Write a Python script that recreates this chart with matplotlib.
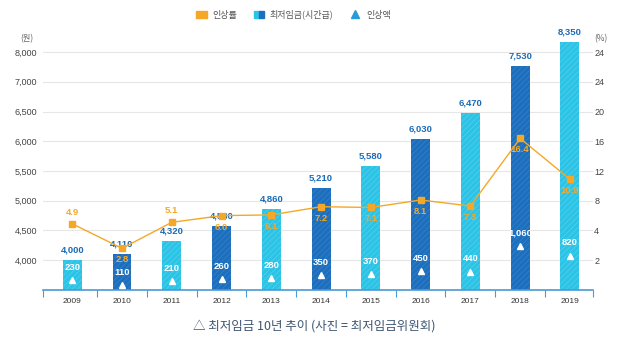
import numpy as np
import matplotlib
matplotlib.use("Agg")
import matplotlib.pyplot as plt
from matplotlib.patches import Patch
from matplotlib.lines import Line2D
from matplotlib.legend_handler import HandlerTuple

years = ["2009", "2010", "2011", "2012", "2013", "2014", "2015", "2016", "2017", "2018", "2019"]
wage = [4000, 4110, 4320, 4580, 4860, 5210, 5580, 6030, 6470, 7530, 8350]
raise_amt = [230, 110, 210, 260, 280, 350, 370, 450, 440, 1060, 820]
raise_pct = [4.9, 2.8, 5.1, 6.0, 6.1, 7.2, 7.1, 8.1, 7.3, 16.4, 10.9]

left_ticks = [4000, 4500, 5000, 5500, 6000, 6500, 7000, 8000]
right_ticks = [2, 4, 8, 12, 16, 20, 24, 28]
right_labels = ["2", "4", "8", "12", "16", "20", "24", "24"]

LIGHT = "#2bc3e6"
DARK = "#1d6fbd"
ORANGE = "#f5a827"
TXT_BLUE = "#1b6cb6"
NARROW = ["Liberation Sans Narrow", "Liberation Sans", "DejaVu Sans"]
KR = ["Noto Sans CJK KR", "DejaVu Sans"]

plt.rcParams["hatch.linewidth"] = 0.4

# the source chart uses evenly spaced but uneven-valued ticks, so map them piecewise
lv = [3500, 4000, 4500, 5000, 5500, 6000, 6500, 7000, 8000, 9000, 20000]
lp = [0, 1, 2, 3, 4, 5, 6, 7, 8, 9, 20]
rv = [0, 2, 4, 8, 12, 16, 20, 24, 28, 32, 100]
rp = [0, 1, 2, 3, 4, 5, 6, 7, 8, 9, 26]


def lf(v):
    return np.interp(v, lv, lp)


def li(p):
    return np.interp(p, lp, lv)


def rf(v):
    return np.interp(v, rv, rp)


def ri(p):
    return np.interp(p, rp, rv)


fig = plt.figure(figsize=(6.22, 3.51), dpi=100)
ax = fig.add_axes([0.069, 0.174, 0.884, 0.726])
x = np.arange(len(years))

ax.set_yscale("function", functions=(lf, li))
ax.set_ylim(3500, 8570)
ax.set_xlim(-0.59, 10.46)

colors = [LIGHT if i % 2 == 0 else DARK for i in range(len(years))]
hatch_cols = ["#5fd4ee" if i % 2 == 0 else "#3a86cc" for i in range(len(years))]
for i in range(len(years)):
    ax.bar(x[i], wage[i] - 3500, bottom=3500, width=0.38, color=colors[i],
           edgecolor=hatch_cols[i], linewidth=0, hatch="//////", zorder=2)
    ax.annotate(f"{wage[i]:,}", (x[i], wage[i]), xytext=(0, 4), textcoords="offset points",
                ha="center", va="bottom", fontsize=6.8, fontweight="bold",
                color=TXT_BLUE, family=NARROW)

ax.set_yticks(left_ticks)
ax.set_yticklabels([f"{t:,}" for t in left_ticks], family=NARROW, fontsize=6.5, color="#444444")
ax.yaxis.grid(True, color="#e6e6e6", linewidth=0.8, zorder=0)
ax.tick_params(axis="y", length=0, pad=4)
ax.set_xticks(x)
ax.set_xticklabels(years, family=NARROW, fontsize=6, color="#333333")
ax.tick_params(axis="x", length=0, pad=6)
ax.set_xticks([-0.59] + [i + 0.5 for i in range(10)] + [10.46], minor=True)
ax.tick_params(axis="x", which="minor", length=5, direction="out", color="#4a9ad6", width=0.8)
for s in ["top", "right", "left"]:
    ax.spines[s].set_visible(False)
ax.spines["bottom"].set_color("#4a9ad6")
ax.spines["bottom"].set_linewidth(1.2)

# percentage line
ax2 = ax.twinx()
ax2.set_yscale("function", functions=(rf, ri))
ax2.set_ylim(0, 30.3)
ax2.plot(x, raise_pct, color=ORANGE, linewidth=1, marker="s", markersize=5, zorder=3)
for i, p in enumerate(raise_pct):
    above = i in (0, 2)
    ax2.annotate(f"{p:.1f}", (x[i], p), xytext=(0, 5 if above else -5),
                 textcoords="offset points", ha="center",
                 va="bottom" if above else "top", fontsize=6.8, fontweight="bold",
                 color=ORANGE, family=NARROW)
ax2.set_yticks(right_ticks)
ax2.set_yticklabels(right_labels, family=NARROW, fontsize=6.5, color="#444444")
ax2.tick_params(axis="y", length=0, pad=1)
for s in ax2.spines.values():
    s.set_visible(False)

# raise amount triangles
ax3 = ax.twinx()
ax3.set_ylim(0, 6100)
ax3.plot(x, raise_amt, linestyle="none", marker="^", color="white", markersize=5)
for i, a in enumerate(raise_amt):
    ax3.annotate(f"{a:,}", (x[i], a), xytext=(0, 6), textcoords="offset points",
                 ha="center", va="bottom", fontsize=6.8, fontweight="bold",
                 color="white", family=NARROW)
ax3.axis("off")

fig.text(0.043, 0.89, "(원)", fontsize=6, color="#666666", family=KR, ha="center", va="center")
fig.text(0.966, 0.89, "(%)", fontsize=6, color="#666666", family=KR, ha="center", va="center")

handles = [Patch(color=ORANGE),
           (Patch(color=LIGHT), Patch(color=DARK)),
           Line2D([], [], linestyle="none", marker="^", color="#2a9ad8", markersize=6)]
labels = ["인상률", "최저임금(시간급)", "인상액"]
fig.legend(handles, labels, loc="center", bbox_to_anchor=(0.472, 0.958), ncol=3, frameon=False,
           prop={"family": KR, "size": 6.5}, labelcolor="#555555", handlelength=1.2,
           handleheight=0.7, columnspacing=1.8, handletextpad=0.6,
           handler_map={tuple: HandlerTuple(ndivide=None, pad=0)})

fig.text(0.506, 0.072, "△ 최저임금 10년 추이 (사진 = 최저임금위원회)", fontsize=9,
         color="#3d5573", family=KR, ha="center", va="center")

fig.savefig("out.png", dpi=100, facecolor="white")
